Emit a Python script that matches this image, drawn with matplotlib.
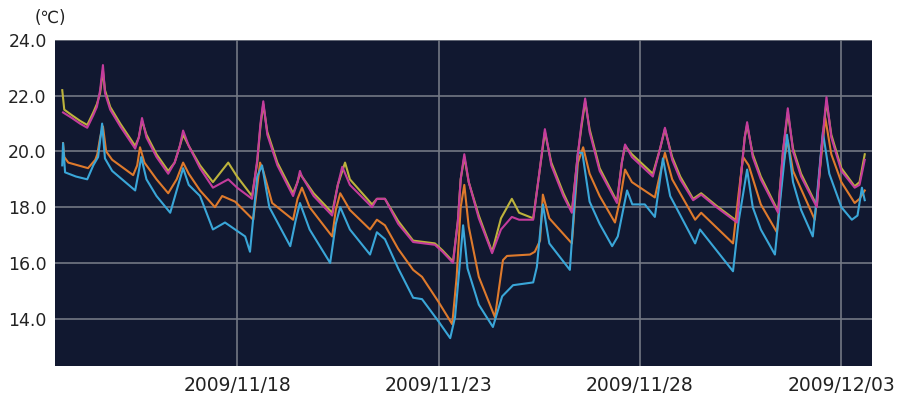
import matplotlib
matplotlib.use("Agg")
import matplotlib.pyplot as plt

# time = days since 2009-11-13 00:00
magenta_t = [0.68, 0.9, 1.1, 1.28, 1.43, 1.52, 1.60, 1.67, 1.72, 1.85, 2.1, 2.47, 2.56, 2.64, 2.75, 3.0, 3.29, 3.45, 3.58, 3.66, 3.8, 4.08, 4.40, 4.78, 5.0, 5.37, 5.50, 5.58, 5.65, 5.75, 6.0, 6.39, 6.5, 6.56, 6.61, 6.9, 7.36, 7.5, 7.61, 7.8, 8.35, 8.47, 8.67, 9.0, 9.37, 9.91, 10.1, 10.36, 10.48, 10.55, 10.64, 10.75, 11.0, 11.33, 11.55, 11.82, 12.0, 12.35, 12.5, 12.64, 12.8, 13.1, 13.31, 13.45, 13.55, 13.64, 13.75, 14.0, 14.43, 14.55, 14.63, 14.8, 15.32, 15.5, 15.62, 15.8, 16.0, 16.32, 16.52, 16.9, 17.41, 17.5, 17.6, 17.66, 17.8, 18.0, 18.43, 18.55, 18.67, 18.8, 19.0, 19.39, 19.5, 19.63, 19.75, 20.0, 20.33, 20.45, 20.58]
magenta_v = [21.4, 21.2, 21.0, 20.85, 21.3, 21.6, 22.2, 23.1, 22.1, 21.5, 20.9, 20.1, 20.5, 21.2, 20.5, 19.8, 19.2, 19.6, 20.2, 20.75, 20.2, 19.4, 18.7, 19.0, 18.7, 18.3, 19.7, 21.0, 21.8, 20.6, 19.5, 18.4, 18.9, 19.3, 19.1, 18.4, 17.7, 18.8, 19.45, 18.8, 18.0, 18.3, 18.3, 17.4, 16.75, 16.65, 16.4, 16.0, 17.5, 19.0, 19.9, 18.9, 17.6, 16.35, 17.2, 17.65, 17.55, 17.55, 19.2, 20.8, 19.5, 18.4, 17.8, 19.8, 21.0, 21.9, 20.7, 19.3, 18.15, 19.6, 20.25, 19.8, 19.1, 20.1, 20.85, 19.7, 19.0, 18.25, 18.45, 18.0, 17.45, 19.0, 20.5, 21.05, 19.8, 19.0, 17.8, 20.0, 21.55, 20.0, 19.1, 18.0, 20.0, 21.95, 20.5, 19.3, 18.7, 18.8, 19.7]

yellow_t = [0.66, 0.71, 0.9, 1.1, 1.28, 1.43, 1.52, 1.60, 1.67, 1.72, 1.85, 2.1, 2.47, 2.56, 2.64, 2.75, 3.0, 3.29, 3.45, 3.58, 3.66, 3.8, 4.08, 4.40, 4.78, 5.0, 5.37, 5.50, 5.58, 5.65, 5.75, 6.0, 6.39, 6.5, 6.56, 6.61, 6.9, 7.36, 7.5, 7.68, 7.8, 8.35, 8.47, 8.67, 9.0, 9.37, 9.91, 10.1, 10.36, 10.48, 10.55, 10.64, 10.75, 11.0, 11.33, 11.55, 11.82, 12.0, 12.35, 12.5, 12.64, 12.8, 13.1, 13.31, 13.45, 13.55, 13.64, 13.75, 14.0, 14.43, 14.55, 14.63, 14.8, 15.32, 15.5, 15.62, 15.8, 16.0, 16.32, 16.52, 16.9, 17.41, 17.5, 17.6, 17.66, 17.8, 18.0, 18.43, 18.55, 18.67, 18.8, 19.0, 19.39, 19.5, 19.63, 19.75, 20.0, 20.33, 20.45, 20.58]
yellow_v = [22.2, 21.5, 21.3, 21.1, 20.95, 21.4, 21.7, 22.1, 22.9, 22.2, 21.6, 21.0, 20.2, 20.5, 21.1, 20.6, 19.9, 19.3, 19.6, 20.2, 20.6, 20.2, 19.5, 18.9, 19.6, 19.1, 18.4, 19.6, 20.9, 21.7, 20.7, 19.6, 18.5, 18.9, 19.2, 19.1, 18.5, 17.8, 18.8, 19.6, 19.0, 18.1, 18.3, 18.3, 17.5, 16.8, 16.7, 16.45, 16.05, 17.5, 19.0, 19.8, 18.9, 17.7, 16.4, 17.6, 18.3, 17.8, 17.6, 19.2, 20.7, 19.6, 18.5, 17.85, 19.8, 20.9, 21.8, 20.8, 19.4, 18.2, 19.6, 20.2, 19.9, 19.2, 20.1, 20.8, 19.8, 19.1, 18.3, 18.5, 18.05, 17.5, 19.0, 20.5, 20.95, 19.9, 19.1, 17.85, 20.0, 21.4, 20.1, 19.2, 18.05, 20.0, 21.8, 20.6, 19.4, 18.75, 18.9, 19.9]

orange_t = [0.68, 0.71, 0.81, 1.3, 1.48, 1.53, 1.60, 1.67, 1.75, 1.90, 2.42, 2.52, 2.59, 2.7, 3.0, 3.29, 3.5, 3.66, 3.8, 4.08, 4.45, 4.63, 4.95, 5.40, 5.48, 5.57, 5.65, 5.87, 6.39, 6.5, 6.61, 6.8, 7.36, 7.45, 7.56, 7.8, 8.30, 8.47, 8.67, 9.0, 9.37, 9.59, 10.0, 10.34, 10.45, 10.55, 10.64, 10.75, 11.0, 11.40, 11.60, 11.70, 12.27, 12.39, 12.52, 12.59, 12.75, 13.31, 13.46, 13.59, 13.75, 14.0, 14.38, 14.51, 14.63, 14.8, 15.37, 15.5, 15.62, 15.8, 16.37, 16.52, 17.31, 17.45, 17.56, 17.7, 18.0, 18.40, 18.55, 18.67, 18.8, 19.34, 19.5, 19.6, 19.75, 20.0, 20.33, 20.45, 20.58]
orange_v = [20.3, 19.8, 19.6, 19.4, 19.7, 19.9, 20.5, 20.9, 20.0, 19.7, 19.15, 19.5, 20.15, 19.6, 19.0, 18.5, 19.0, 19.6, 19.2, 18.6, 18.0, 18.4, 18.2, 17.55, 18.5, 19.6, 19.3, 18.15, 17.55, 18.3, 18.7, 18.0, 16.95, 17.9, 18.5, 17.9, 17.2, 17.55, 17.35, 16.5, 15.75, 15.5, 14.6, 13.8, 15.5, 18.0, 18.8, 17.3, 15.5, 14.05, 16.1, 16.25, 16.3, 16.4, 16.8, 18.45, 17.6, 16.7, 19.6, 20.15, 19.2, 18.4, 17.45, 18.3, 19.35, 18.9, 18.35, 19.2, 19.95, 19.0, 17.55, 17.8, 16.7, 18.5, 19.8, 19.5, 18.1, 17.1, 19.5, 20.4, 19.3, 17.55, 19.8, 21.2, 19.9, 18.9, 18.15, 18.3, 18.6]

blue_t = [0.66, 0.68, 0.73, 1.0, 1.28, 1.43, 1.55, 1.65, 1.72, 1.9, 2.47, 2.55, 2.62, 2.75, 3.0, 3.34, 3.5, 3.66, 3.8, 4.08, 4.40, 4.70, 5.20, 5.32, 5.50, 5.62, 5.8, 6.32, 6.45, 6.56, 6.8, 7.31, 7.45, 7.56, 7.8, 8.30, 8.47, 8.67, 9.0, 9.37, 9.59, 10.0, 10.29, 10.41, 10.5, 10.61, 10.72, 11.0, 11.35, 11.58, 11.85, 12.35, 12.44, 12.59, 12.75, 13.26, 13.46, 13.57, 13.75, 14.0, 14.31, 14.45, 14.68, 14.81, 15.12, 15.37, 15.57, 15.75, 16.37, 16.49, 17.31, 17.45, 17.66, 17.8, 18.0, 18.35, 18.5, 18.65, 18.8, 19.0, 19.29, 19.4, 19.54, 19.7, 20.0, 20.26, 20.4, 20.51, 20.58]
blue_v = [19.5, 20.3, 19.25, 19.1, 19.0, 19.5, 19.8, 21.0, 19.75, 19.3, 18.6, 19.2, 19.8, 19.0, 18.4, 17.8, 18.6, 19.4, 18.8, 18.4, 17.2, 17.45, 16.95, 16.4, 19.1, 19.5, 18.0, 16.6, 17.5, 18.15, 17.2, 16.0, 17.4, 18.0, 17.2, 16.3, 17.1, 16.85, 15.8, 14.75, 14.7, 13.9, 13.3, 14.05, 15.5, 17.35, 15.8, 14.5, 13.7, 14.8, 15.2, 15.3, 15.85, 18.1, 16.7, 15.75, 19.95, 19.95, 18.2, 17.4, 16.6, 16.95, 18.6, 18.1, 18.1, 17.65, 19.75, 18.4, 16.7, 17.2, 15.7, 17.5, 19.35, 18.0, 17.2, 16.3, 18.5, 20.6, 18.9, 17.9, 16.95, 18.5, 20.7, 19.2, 18.0, 17.55, 17.7, 18.7, 18.25]

y_ticks = [14, 16, 18, 20, 22, 24]
y_labels = ["14.0", "16.0", "18.0", "20.0", "22.0", "24.0"]
x_ticks = [5, 10, 15, 20]
x_labels = ["2009/11/18", "2009/11/23", "2009/11/28", "2009/12/03"]
unit_label = "(\u2103)"

fig = plt.figure(figsize=(8.97, 3.94), dpi=100, facecolor="white")
ax = fig.add_axes([55/897, 1-366/394, (872-55)/897, (366-40)/394])
ax.set_facecolor("#111830")

ax.plot(yellow_t, yellow_v, color="#bdb33c", lw=1.5, zorder=3)
ax.plot(magenta_t, magenta_v, color="#c43c9c", lw=1.5, zorder=4)
ax.plot(orange_t, orange_v, color="#de7a2c", lw=1.5, zorder=3)
ax.plot(blue_t, blue_v, color="#3aa6d8", lw=1.5, zorder=3)

ax.set_xlim(0.48, 20.76)
ax.set_ylim(12.3, 24.0)
ax.set_yticks(y_ticks)
ax.set_yticklabels(y_labels)
ax.set_xticks(x_ticks)
ax.set_xticklabels(x_labels)
ax.tick_params(axis="y", length=0, pad=6, labelsize=12.5, colors="#222222")
ax.tick_params(axis="x", length=0, pad=7, labelsize=13.5, colors="#222222")
ax.grid(True, color="#737884", lw=1.2, zorder=1)
for s in ax.spines.values():
    s.set_visible(False)

fig.text(50/897, 1-18/394, unit_label, ha="center", va="center", fontsize=12, color="#222222")

fig.savefig("out.png", dpi=100, facecolor="white")
